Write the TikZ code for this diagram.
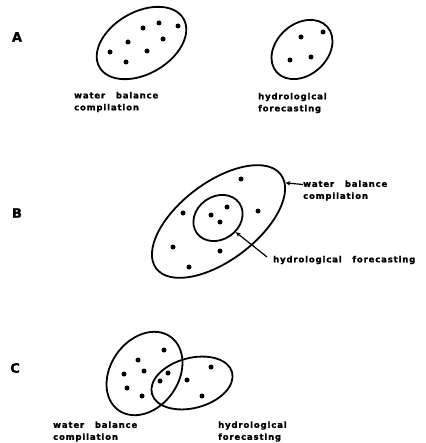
\documentclass[tikz,border=0pt]{standalone}
\usepackage{fontspec}
\newfontfamily\lblfont{DejaVu Sans}[LetterSpace=10,WordSpace=2.8,BoldFeatures={FakeBold=1.5}]
\usetikzlibrary{arrows.meta,shapes.geometric}

\begin{document}
\begin{tikzpicture}[
  x=1pt, y=-1pt,
  set/.style={draw, ellipse, line width=1.8pt, inner sep=0pt},
  lbl/.style={font=\lblfont\bfseries\fontsize{8.5}{12}\selectfont, align=left, anchor=west, inner sep=0pt},
  panel/.style={font=\lblfont\bfseries\fontsize{13}{15}\selectfont, inner sep=0pt},
  pointer/.style={line width=1.2pt, -{Stealth[length=5pt,width=4.5pt]}}
]
\useasboundingbox (0,0) rectangle (425,443);

% A: two separate sets
\node[panel] (pA) at (17,37) {A};
\node[set, minimum width=97pt, minimum height=62pt, rotate=30] (wbA) at (141.5,43) {};
\node[set, minimum width=68pt, minimum height=51pt, rotate=42] (hfA) at (302,49.5) {};
\foreach \p in {(143,28),(159,23),(178,26),(128,42),(163,39),(110,52),(147,51),(126,62),
                (301,37),(323,32),(290,60),(311,57)}
  \fill \p circle (2.5pt);
\node[lbl] (wbAtext) at (74,102) {water balance\\compilation};
\node[lbl] (hfAtext) at (258,103) {hydrological\\forecasting};

% B: one set inside the other
\node[panel] (pB) at (17,213) {B};
\node[set, minimum width=156pt, minimum height=78pt, rotate=37] (wbB) at (218.5,221.5) {};
\node[set, minimum width=52pt, minimum height=43pt, rotate=35] (hfB) at (218,218) {};
\foreach \p in {(241,179),(183,213),(258,211),(211,215),(227,207),(220,222),(173,247),(220,251),(189,267)}
  \fill \p circle (2.5pt);
\node[lbl] (wbBtext) at (303,190.5) {water balance\\compilation};
\node[lbl] (hfBtext) at (273,260) {hydrological forecasting};
\draw[pointer] ([yshift=6pt]wbBtext.west) -- (wbB.-7);
\draw[pointer] ([xshift=-6pt,yshift=3pt]hfBtext.west) -- (hfB);

% C: overlapping sets
\node[panel] (pC) at (15,368) {C};
\node[set, minimum width=90pt, minimum height=68pt, rotate=55] (wbC) at (144.5,373.5) {};
\node[set, minimum width=83pt, minimum height=50pt, rotate=15] (hfC) at (192,383) {};
\foreach \p in {(164,350),(138,360),(124,374),(144,371),(168,373),(160,381),(187,380),(211,367),
                (127,388),(142,396),(202,396)}
  \fill \p circle (2.5pt);
\node[lbl] (wbCtext) at (53,431.5) {water balance\\compilation};
\node[lbl] (hfCtext) at (218,431.5) {hydrological\\forecasting};
\end{tikzpicture}
\end{document}
